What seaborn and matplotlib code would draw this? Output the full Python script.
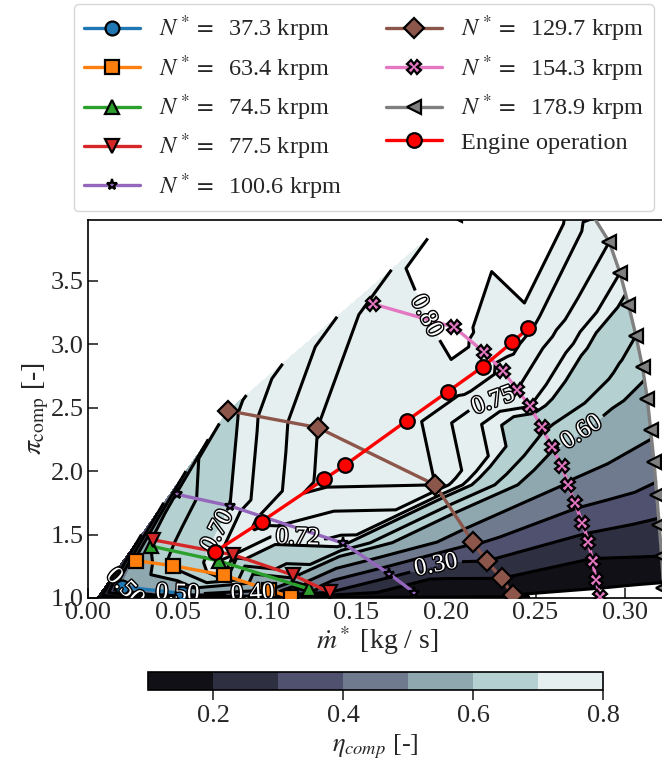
import numpy as np
import matplotlib
matplotlib.use('Agg')
import matplotlib.pyplot as plt
import matplotlib.tri as mtri
import matplotlib.patheffects as pe
import seaborn as sns

# speed lines: corrected mass flow [kg/s], pressure ratio [-], efficiency [-]
m_373 = [0.0188, 0.0523]
pi_373 = [1.089, 1.037]
eta_373 = [0.52, 0.55]

m_634 = [0.0268, 0.0473, 0.076, 0.1013, 0.1134]
pi_634 = [1.294, 1.255, 1.18, 1.063, 1.005]
eta_634 = [0.55, 0.66, 0.72, 0.50, 0.20]

m_745 = [0.035, 0.0732, 0.1236]
pi_745 = [1.41, 1.292, 1.071]
eta_745 = [0.60, 0.72, 0.45]

m_775 = [0.0365, 0.0812, 0.1147, 0.135]
pi_775 = [1.458, 1.34, 1.18, 1.045]
eta_775 = [0.62, 0.72, 0.62, 0.30]

m_1006 = [0.0495, 0.0793, 0.1426, 0.1683, 0.1823]
pi_1006 = [1.818, 1.726, 1.432, 1.19, 1.042]
eta_1006 = [0.62, 0.70, 0.71, 0.33, 0.12]

m_1297 = [0.0784, 0.1283, 0.1939, 0.2149, 0.2227, 0.2311, 0.2372]
pi_1297 = [2.476, 2.344, 1.892, 1.444, 1.292, 1.155, 1.024]
eta_1297 = [0.69, 0.78, 0.78, 0.42, 0.30, 0.20, 0.10]

m_1543 = [0.1594, 0.2047, 0.2212, 0.2317, 0.2398, 0.2469, 0.2534, 0.259,
          0.2646, 0.2683, 0.272, 0.2762, 0.2795, 0.2819, 0.2838, 0.286]
pi_1543 = [3.318, 3.134, 2.939, 2.792, 2.642, 2.51, 2.347, 2.194,
           2.042, 1.892, 1.747, 1.594, 1.444, 1.292, 1.142, 1.01]
eta_1543 = [0.79, 0.805, 0.795, 0.77, 0.75, 0.72, 0.66, 0.61,
            0.55, 0.49, 0.42, 0.34, 0.27, 0.19, 0.13, 0.07]

m_1789 = [0.205, 0.235, 0.262, 0.280, 0.2912, 0.2972, 0.3019, 0.3061,
          0.3098, 0.3125, 0.3143, 0.3162, 0.3177, 0.3191, 0.3205, 0.3215]
pi_1789 = [4.02, 4.12, 4.12, 4.06, 3.807, 3.563, 3.313, 3.068,
           2.818, 2.568, 2.326, 2.076, 1.813, 1.576, 1.33, 1.08]
eta_1789 = [0.815, 0.86, 0.81, 0.79, 0.75, 0.72, 0.69, 0.65,
            0.62, 0.57, 0.52, 0.45, 0.37, 0.28, 0.20, 0.08]

# engine operating line
m_engine = [0.071, 0.097, 0.132, 0.1436, 0.178, 0.201, 0.2207, 0.237, 0.246]
pi_engine = [1.365, 1.603, 1.937, 2.048, 2.397, 2.627, 2.825, 3.016, 3.127]
eta_engine = [0.71, 0.76, 0.79, 0.79, 0.795, 0.795, 0.795, 0.79, 0.785]

# map boundary point near surge at low speed
m_edge = [0.005]
pi_edge = [1.0]
eta_edge = [0.10]

speeds = [37.3, 63.4, 74.5, 77.5, 100.6, 129.7, 154.3, 178.9]
lines_m = [m_373, m_634, m_745, m_775, m_1006, m_1297, m_1543, m_1789]
lines_pi = [pi_373, pi_634, pi_745, pi_775, pi_1006, pi_1297, pi_1543, pi_1789]
lines_eta = [eta_373, eta_634, eta_745, eta_775, eta_1006, eta_1297, eta_1543, eta_1789]
markers = ['o', 's', '^', 'v', '*', 'D', 'X', '<']
msizes = [10, 10, 10, 10, 8, 10, 10, 10]
colors = sns.color_palette('tab10', 8)

sns.set_style('ticks')
plt.rcParams['font.family'] = ['serif']
plt.rcParams['font.serif'] = ['Liberation Serif', 'DejaVu Serif']
plt.rcParams['mathtext.fontset'] = 'stix'
plt.rcParams['font.size'] = 17
plt.rcParams['axes.linewidth'] = 1.2
plt.rcParams['axes.edgecolor'] = 'black'

fig = plt.figure(figsize=(6.62, 7.65), dpi=100)
ax = fig.add_axes([88 / 662, 1 - 598 / 765, 578 / 662, 378 / 765])
cax = fig.add_axes([148 / 662, 1 - 690 / 765, 455 / 662, 18 / 765])

all_m = np.concatenate([np.concatenate(lines_m), m_engine, m_edge])
all_pi = np.concatenate([np.concatenate(lines_pi), pi_engine, pi_edge])
all_eta = np.concatenate([np.concatenate(lines_eta), eta_engine, eta_edge])
# triangulate on normalised axes so the mesh is not stretched
tri_n = mtri.Triangulation(all_m / 0.32, (all_pi - 1.0) / 3.0)
tri = mtri.Triangulation(all_m, all_pi, triangles=tri_n.triangles)

fill_levels = np.round(np.arange(0.1, 0.81, 0.1), 2)
line_levels = [0.1, 0.2, 0.3, 0.4, 0.5, 0.6, 0.65, 0.7, 0.72, 0.75, 0.78, 0.8]
cf = ax.tricontourf(tri, all_eta, levels=fill_levels, cmap='bone', zorder=1)

label_spots = {0.8: [(0.19, 3.23)], 0.75: [(0.226, 2.6)], 0.6: [(0.272, 2.4)],
               0.7: [(0.067, 1.57)], 0.72: [(0.117, 1.40)], 0.3: [(0.195, 1.22)],
               0.5: [(0.02, 1.01), (0.05, 1.02)], 0.4: [(0.092, 1.02)]}
for lev in line_levels:
    cs = ax.tricontour(tri, all_eta, levels=[lev], colors='black',
                       linewidths=2.2, zorder=2)
    if lev in label_spots:
        txts = ax.clabel(cs, manual=label_spots[lev], inline=True, fmt='%.2f',
                         fontsize=18, colors='white')
        for t in txts:
            t.set_path_effects([pe.withStroke(linewidth=2, foreground='black')])

for spd, m, p, mk, ms, c in zip(speeds, lines_m, lines_pi, markers, msizes, colors):
    sns.lineplot(x=m, y=p, ax=ax, sort=False, estimator=None, color=c,
                 marker=mk, markersize=ms, markeredgecolor='black',
                 markeredgewidth=1.6, linewidth=2.4,
                 label=r'$N^* =$  ' + f'{spd} krpm', zorder=3)
sns.lineplot(x=m_engine, y=pi_engine, ax=ax, sort=False, estimator=None,
             color='#ff0000', marker='o', markersize=10.5, markeredgecolor='black',
             markeredgewidth=1.6, linewidth=2.4, label='Engine operation', zorder=4)

ax.set_xlim(0, 0.3229)
ax.set_ylim(1.0, 3.98)
ax.set_xticks([0.0, 0.05, 0.10, 0.15, 0.20, 0.25, 0.30])
ax.set_yticks([1.0, 1.5, 2.0, 2.5, 3.0, 3.5])
ax.xaxis.set_major_formatter(matplotlib.ticker.FormatStrFormatter('%.2f'))
ax.yaxis.set_major_formatter(matplotlib.ticker.FormatStrFormatter('%.1f'))
ax.tick_params(direction='in', length=7, width=1.2, labelsize=19, pad=3)
ax.set_xlabel(r'$\dot{m}^*$ [kg / s]', fontsize=20, labelpad=0)
ax.set_ylabel(r'$\pi_{\rm comp}$ [-]', fontsize=20, labelpad=0)

handles, labels = ax.get_legend_handles_labels()
ax.get_legend().remove()
fig.legend(handles, labels, ncol=2, loc='upper center',
           bbox_to_anchor=(364 / 662, 1 - 4 / 765), frameon=True, fancybox=True,
           edgecolor='0.8', fontsize=17.5, labelspacing=0.36, handlelength=2.3,
           columnspacing=1.8, borderpad=0.4, borderaxespad=0)

cb = fig.colorbar(cf, cax=cax, orientation='horizontal')
cb.set_ticks([0.2, 0.4, 0.6, 0.8])
cb.ax.tick_params(labelsize=19, length=7, width=1.2, direction='out')
cb.set_label(r'$\eta_{comp}$ [-]', fontsize=19)
cb.outline.set_linewidth(1.2)

fig.savefig('out.png', dpi=100)
